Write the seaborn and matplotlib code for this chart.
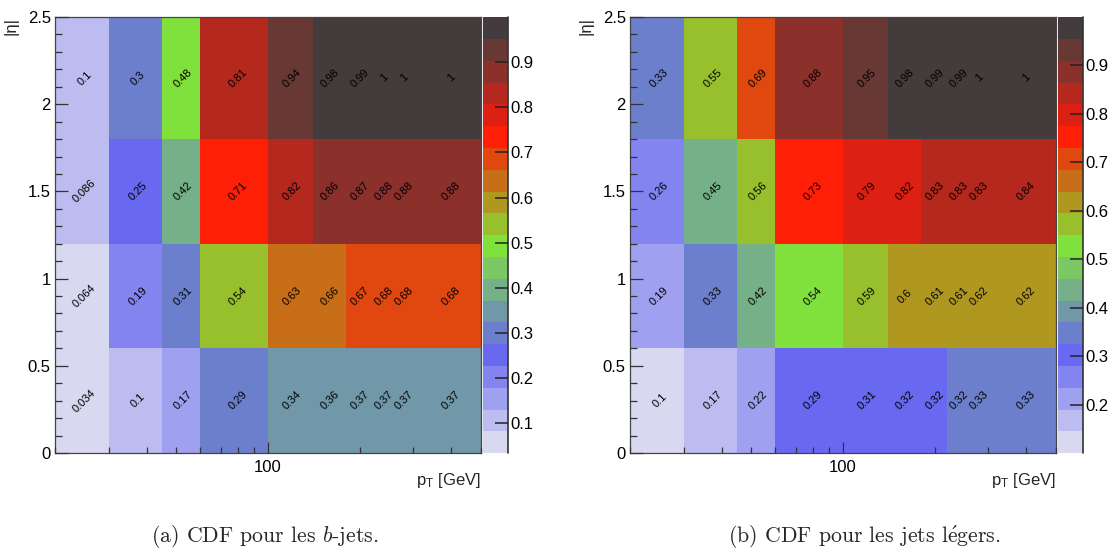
import numpy as np
import pandas as pd
import matplotlib
matplotlib.use('Agg')
import matplotlib.pyplot as plt
from matplotlib import ticker
from matplotlib.colors import ListedColormap, BoundaryNorm
import seaborn as sns

# bin edges of the maps
pt_edges = [20, 30, 45, 60, 100, 140, 180, 220, 260, 300, 500]
eta_edges = [0, 0.6, 1.2, 1.8, 2.5]

# CDF values, one list per |eta| bin (bottom row first)
bjet_cdf = [
    [0.034, 0.1, 0.17, 0.29, 0.34, 0.36, 0.37, 0.37, 0.37, 0.37],
    [0.064, 0.19, 0.31, 0.54, 0.63, 0.66, 0.67, 0.68, 0.68, 0.68],
    [0.086, 0.25, 0.419, 0.71, 0.82, 0.86, 0.87, 0.88, 0.88, 0.88],
    [0.1, 0.3, 0.48, 0.81, 0.94, 0.98, 0.99, 1, 1, 1],
]
light_cdf = [
    [0.1, 0.17, 0.22, 0.29, 0.31, 0.32, 0.32, 0.3248, 0.33, 0.33],
    [0.19, 0.33, 0.42, 0.54, 0.59, 0.6, 0.61, 0.61, 0.62, 0.62],
    [0.26, 0.45, 0.56, 0.73, 0.79, 0.819, 0.83, 0.83, 0.83, 0.84],
    [0.33, 0.5496, 0.69, 0.88, 0.95, 0.98, 0.99, 0.99, 1, 1],
]

# 20 colour palette (low -> high)
palette = ['#d8d8f0', '#bcbcf0', '#a0a0f0', '#8484f0', '#6868f0',
           '#6c7fcc', '#7098a8', '#76b088', '#7cc864', '#80e03c',
           '#98c02c', '#b09820', '#c86e18', '#e04810', '#ff1e06',
           '#dc2014', '#b4281e', '#8c302c', '#683834', '#443c3c']

sns.set_style('white')
plt.rcParams['font.family'] = ['Liberation Sans', 'DejaVu Sans']
plt.rcParams['mathtext.default'] = 'regular'

W, H = 1115, 552
fig = plt.figure(figsize=(W / 100, H / 100), dpi=100)
cmap = ListedColormap(palette)


def draw_panel(x0, values, cbar_ticks, caption, cap_x):
    ax = fig.add_axes([x0 / W, 1 - 453 / H, 426 / W, 436 / H])
    cax = fig.add_axes([(x0 + 428) / W, 1 - 453 / H, 25 / W, 436 / H])

    vals = np.array(values, dtype=float)
    xc = [(a + b) / 2 for a, b in zip(pt_edges[:-1], pt_edges[1:])]
    yc = [(a + b) / 2 for a, b in zip(eta_edges[:-1], eta_edges[1:])]
    df = pd.DataFrame({'pt': np.tile(xc, len(yc)),
                       'eta': np.repeat(yc, len(xc)),
                       'cdf': vals.ravel()})

    # ROOT-like colour levels: 20 equal bands between min and max
    zmin, zmax = vals.min(), vals.max()
    step = (zmax - zmin) / len(palette)
    bounds = zmin + (np.arange(len(palette) + 1) - 0.01) * step
    bounds[0], bounds[-1] = zmin, zmax
    norm = BoundaryNorm(bounds, cmap.N)

    sns.histplot(data=df, x='pt', y='eta', weights='cdf',
                 bins=[pt_edges, eta_edges], cmap=cmap,
                 ax=ax, cbar=False)
    mesh = ax.collections[0]
    mesh.set_norm(norm)

    for x, y, v in zip(df['pt'], df['eta'], df['cdf']):
        ax.text(x, y, f'{v:.2g}', rotation=45, ha='center', va='center',
                rotation_mode='anchor', fontsize=8, color='black')

    ax.set_axisbelow(False)
    ax.set_xscale('log')
    ax.set_xlim(20, 500)
    ax.set_ylim(0, 2.5)
    ax.set_xticks([100], labels=['100'])
    ax.xaxis.set_minor_locator(ticker.LogLocator(subs=np.arange(2, 10)))
    ax.xaxis.set_minor_formatter(ticker.NullFormatter())
    ax.set_yticks([0, 0.5, 1, 1.5, 2, 2.5], labels=['0', '0.5', '1', '1.5', '2', '2.5'])
    ax.yaxis.set_minor_locator(ticker.MultipleLocator(0.1))
    ax.tick_params(axis='both', which='both', direction='in', colors='#333333',
                   labelcolor='black', labelsize=12, width=0.9,
                   bottom=True, left=True, top=False, right=False)
    ax.tick_params(axis='y', which='major', length=9.5, pad=3)
    ax.tick_params(axis='y', which='minor', length=4.8)
    ax.tick_params(axis='x', which='major', length=8, pad=5)
    ax.tick_params(axis='x', which='minor', length=4)
    for s in ax.spines.values():
        s.set_color('#444444')
        s.set_linewidth(0.9)

    ax.set_xlabel('p$_T$ [GeV]', loc='right', fontsize=12)
    ax.xaxis.set_label_coords(1.0, -0.042)
    ax.set_ylabel('|η|', loc='top', fontsize=12)
    ax.yaxis.set_label_coords(-0.085, 1.0)

    cb = fig.colorbar(mesh, cax=cax, spacing='proportional')
    cb.outline.set_visible(False)
    cb.set_ticks(cbar_ticks, labels=[f'{t:g}' for t in cbar_ticks])
    cax.set_axisbelow(False)
    cax.yaxis.set_ticks_position('right')
    cax.tick_params(which='major', direction='in', length=9.5, width=1.1,
                    colors='#222222', labelcolor='black', labelsize=12, pad=2,
                    right=True, left=False)
    cax.tick_params(which='minor', right=False, left=False)
    cax.axvline(1.0, color='#333333', lw=1.2, clip_on=False)

    fig.text(cap_x / W, 1 - 537 / H, caption, ha='center', va='center',
             fontsize=15.7, family=['cmr10', 'DejaVu Serif'], math_fontfamily='cm')


draw_panel(55, bjet_cdf, [0.1, 0.2, 0.3, 0.4, 0.5, 0.6, 0.7, 0.8, 0.9],
           r'(a) CDF pour les $\mathit{b}$-jets.', 265)
draw_panel(630, light_cdf, [0.2, 0.3, 0.4, 0.5, 0.6, 0.7, 0.8, 0.9],
           r'(b) CDF pour les jets l$\mathrm{\acute{e}}$gers.', 864)

fig.savefig('out.png', dpi=100)
